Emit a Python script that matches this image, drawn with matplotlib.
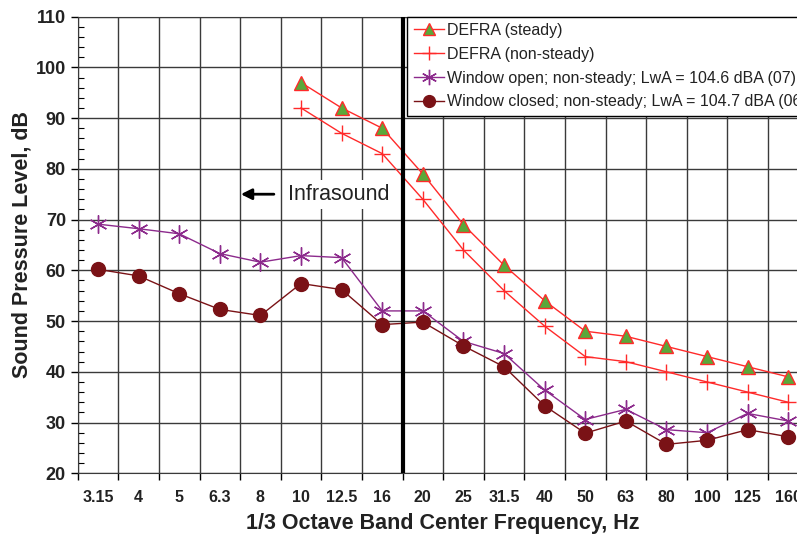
import matplotlib
matplotlib.use('Agg')
import matplotlib.pyplot as plt
import numpy as np

plt.rcParams['font.family'] = ['Liberation Sans', 'DejaVu Sans']

# 1/3 octave band centre frequencies (Hz)
bands = ["3.15", "4", "5", "6.3", "8", "10", "12.5", "16", "20", "25", "31.5",
         "40", "50", "63", "80", "100", "125", "160"]

# DEFRA curves start at 10 Hz
defra_steady = [97, 92, 88, 79, 69, 61, 54, 48, 47, 45, 43, 41, 39]
defra_nonsteady = [92, 87, 83, 74, 64, 56, 49, 43, 42, 40, 38, 36, 34]
window_open = [69.1, 68.2, 67.2, 63.3, 61.6, 62.9, 62.5, 52.0, 52.0, 46.0, 43.6,
               36.4, 30.6, 32.6, 28.6, 28.0, 31.8, 30.3]
window_closed = [60.2, 58.9, 55.4, 52.3, 51.1, 57.4, 56.2, 49.3, 49.8, 45.1, 41.0,
                 33.3, 27.9, 30.3, 25.7, 26.5, 28.6, 27.2]

x_all = np.arange(len(bands))
x_defra = x_all[len(bands) - len(defra_steady):]

fig = plt.figure(figsize=(7.97, 5.36), dpi=100)
ax = fig.add_axes([0.0975, 0.117, 0.917, 0.852])

ax.plot(x_defra, defra_steady, color='#ff2a2a', lw=1.0, marker='^', ms=10,
        mfc='#5aa83a', mec='#ff2a2a', mew=1.0, label='DEFRA (steady)', zorder=4)
ax.plot(x_defra, defra_nonsteady, color='#ff2a2a', lw=1.0, marker='+', ms=12,
        mew=1.0, label='DEFRA (non-steady)', zorder=4)
ax.plot(x_all, window_open, color='#8c2a8c', lw=1.0, marker=(6, 2, 0), ms=13,
        mew=1.0, label='Window open; non-steady; LwA = 104.6 dBA (07)', zorder=4)
ax.plot(x_all, window_closed, color='#7a1216', lw=1.0, marker='o', ms=10,
        mfc='#7a1216', mec='#7a1216', label='Window closed; non-steady; LwA = 104.7 dBA (06)',
        zorder=4)

# boundary between infrasound and audible range
ax.axvline(7.5, ymin=0.006, ymax=1, color='black', lw=3, zorder=5)

ax.annotate('', xy=(3.45, 75), xytext=(4.4, 75),
            arrowprops=dict(arrowstyle='-|>', color='black', lw=2, mutation_scale=16))
ax.text(4.68, 75, 'Infrasound', fontsize=15.5, va='center', ha='left', color='#222222',
        bbox=dict(facecolor='white', edgecolor='none', pad=3), zorder=3)

ax.set_xlim(-0.5, len(bands) - 0.5)
ax.set_ylim(20, 110)

# boundaries get ticks and grid, centres get the labels
ax.set_xticks(np.arange(-0.5, len(bands), 1.0))
ax.set_xticklabels([])
ax.set_xticks(x_all, minor=True)
ax.set_xticklabels(bands, minor=True, fontsize=11.5, fontweight='bold', color='#222222')
ax.tick_params(axis='x', which='major', length=5, direction='out', width=1)
ax.tick_params(axis='x', which='minor', length=0, pad=12)

ax.set_yticks(np.arange(20, 111, 10))
ax.set_yticks(np.arange(20, 111, 2), minor=True)
ax.tick_params(axis='y', which='major', length=5, direction='out', width=1,
               labelsize=13)
ax.tick_params(axis='y', which='minor', length=4, direction='in', width=0.8)
for lbl in ax.get_yticklabels():
    lbl.set_fontweight('bold')
    lbl.set_color('#222222')

ax.grid(True, which='major', color='#3a3a3a', lw=1.0)
ax.set_axisbelow(True)
for s in ax.spines.values():
    s.set_color('#3a3a3a')

ax.set_xlabel('1/3 Octave Band Center Frequency, Hz', fontsize=15.5, fontweight='bold',
              color='#222222', labelpad=6)
ax.set_ylabel('Sound Pressure Level, dB', fontsize=15.5, fontweight='bold',
              color='#222222', labelpad=2)

leg = ax.legend(loc='upper left', bbox_to_anchor=(0.451, 1.0), fontsize=11.5,
                frameon=True, fancybox=False, framealpha=1, edgecolor='black',
                handlelength=1.9, borderpad=0.4, labelspacing=0.55, handletextpad=0.2,
                borderaxespad=0, markerscale=0.85)
leg.get_frame().set_linewidth(1.0)
leg.set_zorder(6)
for t in leg.get_texts():
    t.set_color('#222222')

fig.savefig('out.png', dpi=100)
